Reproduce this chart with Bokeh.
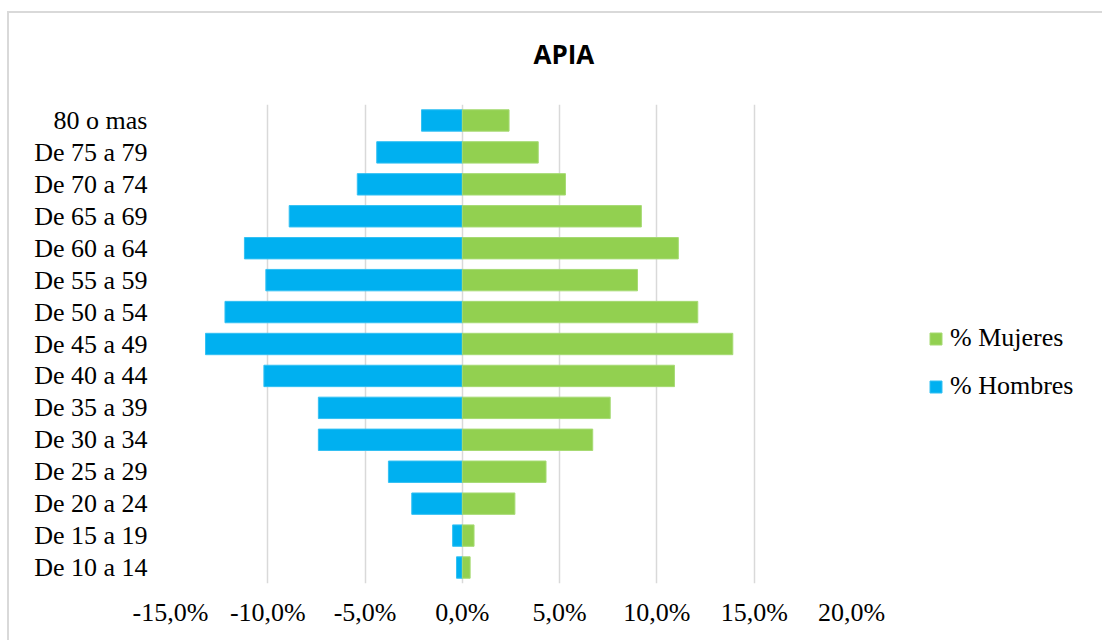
from bokeh.plotting import figure
from bokeh.models import FactorRange, Range1d, FixedTicker, Legend, LegendItem, ColumnDataSource
from bokeh.embed import file_html
from bokeh.resources import INLINE

# ---- data ----
categories = ["80 o mas", "De 75 a 79", "De 70 a 74", "De 65 a 69", "De 60 a 64",
              "De 55 a 59", "De 50 a 54", "De 45 a 49", "De 40 a 44", "De 35 a 39",
              "De 30 a 34", "De 25 a 29", "De 20 a 24", "De 15 a 19", "De 10 a 14"]
hombres = [-2.1, -4.4, -5.4, -8.9, -11.2, -10.1, -12.2, -13.2, -10.2, -7.4, -7.4, -3.8, -2.6, -0.5, -0.3]
mujeres = [2.4, 3.9, 5.3, 9.2, 11.1, 9.0, 12.1, 13.9, 10.9, 7.6, 6.7, 4.3, 2.7, 0.6, 0.4]
tick_values = [-15, -10, -5, 0, 5, 10, 15, 20]
tick_labels = ["-15,0%", "-10,0%", "-5,0%", "0,0%", "5,0%", "10,0%", "15,0%", "20,0%"]
title_text = "APIA"
series_names = ["% Mujeres", "% Hombres"]

SERIF = "Liberation Serif"
FS = "26px"

src = ColumnDataSource(data=dict(cat=categories, h=hombres, m=mujeres))

p = figure(
    y_range=FactorRange(factors=list(reversed(categories))),
    x_range=Range1d(tick_values[0], tick_values[-1]),
    frame_width=681, frame_height=479,
    min_border_left=170, min_border_right=249, min_border_top=104, min_border_bottom=57,
    output_backend="svg", toolbar_location=None,
    background_fill_color="white", border_fill_color=None,
)
p.outline_line_color = None
# chart-area border (left and top edges; the rest lies outside the picture)
p.styles = {
    "background": ("linear-gradient(#d9d9d9, #d9d9d9) 7px 11px / 2px 100% no-repeat, "
                   "linear-gradient(#d9d9d9, #d9d9d9) 7px 11px / 100% 2px no-repeat, white"),
}

r_h = p.hbar(y="cat", right="h", left=0, height=0.67, source=src,
             fill_color="#00B0F0", line_color="#33c0f3", line_width=1)
r_m = p.hbar(y="cat", right="m", left=0, height=0.67, source=src,
             fill_color="#92D050", line_color="#a6da73", line_width=1)

# title
p.title.text = title_text
p.title.align = "left"
p.title.offset = 363
p.title.standoff = 66
p.title.text_font = "Open Sans"
p.title.text_font_style = "bold"
p.title.text_font_size = "26px"
p.title.text_color = "black"

# axes
p.xaxis.ticker = FixedTicker(ticks=tick_values)
p.xaxis.major_label_overrides = {v: l for v, l in zip(tick_values, tick_labels)}
for ax in (p.xaxis[0], p.yaxis[0]):
    ax.axis_line_color = None
    ax.major_tick_line_color = None
    ax.minor_tick_line_color = None
    ax.major_label_text_font = SERIF
    ax.major_label_text_font_size = FS
    ax.major_label_text_color = "black"
p.xaxis.major_label_standoff = 8
p.yaxis.major_label_standoff = 17

p.xgrid.grid_line_color = "#d9d9d9"
p.xgrid.grid_line_width = 1.5
p.ygrid.grid_line_color = None

legend = Legend(
    items=[LegendItem(label=series_names[0], renderers=[r_m]),
           LegendItem(label=series_names[1], renderers=[r_h])],
    location=(77, 182),
    glyph_width=15, glyph_height=15, label_standoff=7, spacing=18,
    padding=0, margin=0,
    border_line_color=None, background_fill_alpha=0,
    label_text_font=SERIF, label_text_font_size=FS, label_text_color="black",
)
p.add_layout(legend, "right")

open("out.html", "w").write(file_html(p, INLINE))
